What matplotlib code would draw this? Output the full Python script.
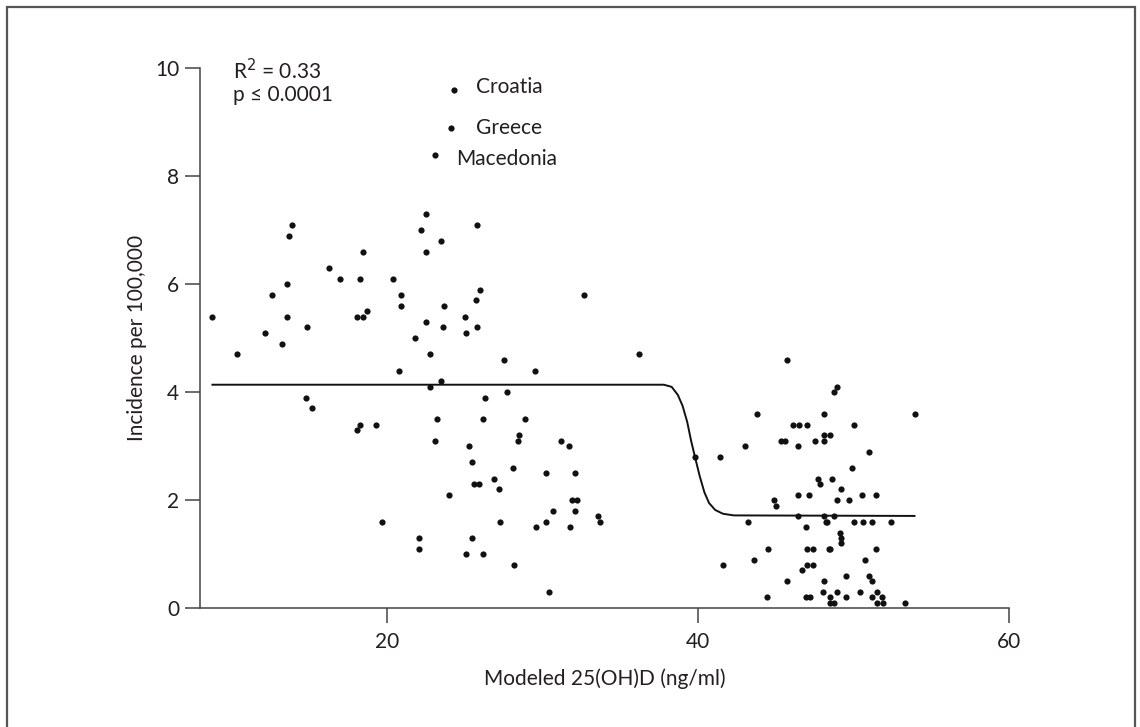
import numpy as np
import matplotlib
matplotlib.use("Agg")
import matplotlib.pyplot as plt
from matplotlib.patches import Rectangle

plt.rcParams['font.family'] = ['Lato', 'DejaVu Sans']

## scatter data: modeled 25(OH)D vs incidence
vitd_left = [8.8, 10.4, 12.2, 12.6, 13.3, 13.6, 13.6, 13.7, 13.9, 14.9, 14.8, 15.2, 16.3, 17.0,
             18.1, 18.3, 18.3, 18.5, 18.1, 18.5, 18.7, 19.3, 19.7, 20.4, 20.9, 20.9, 20.8, 21.8,
             22.1, 22.1, 22.2, 22.5, 22.5, 22.5, 22.8, 22.8, 23.1, 23.2, 23.5, 23.5, 23.6, 23.7,
             24.0, 23.1, 24.1, 24.3]
inc_left = [5.4, 4.7, 5.1, 5.8, 4.9, 6.0, 5.4, 6.9, 7.1, 5.2, 3.9, 3.7, 6.3, 6.1,
            3.3, 3.4, 6.1, 6.6, 5.4, 5.4, 5.5, 3.4, 1.6, 6.1, 5.8, 5.6, 4.4, 5.0,
            1.3, 1.1, 7.0, 7.3, 6.6, 5.3, 4.7, 4.1, 3.1, 3.5, 6.8, 4.2, 5.2, 5.6,
            2.1, 8.4, 8.9, 9.6]

vitd_mid = [25.0, 25.1, 25.8, 25.8, 26.0, 25.7, 32.7, 27.5, 29.5, 36.2, 27.7, 26.3, 26.2, 28.9,
            25.3, 28.5, 28.4, 31.2, 31.7, 25.5, 28.1, 30.2, 32.1, 25.6, 25.9, 26.9, 27.2, 31.9,
            32.2, 30.7, 32.1, 33.6, 33.7, 27.3, 30.2, 29.6, 31.8, 25.5, 25.1, 26.2, 28.2, 30.4]
inc_mid = [5.4, 5.1, 5.2, 7.1, 5.9, 5.7, 5.8, 4.6, 4.4, 4.7, 4.0, 3.9, 3.5, 3.5,
           3.0, 3.2, 3.1, 3.1, 3.0, 2.7, 2.6, 2.5, 2.5, 2.3, 2.3, 2.4, 2.2, 2.0,
           2.0, 1.8, 1.8, 1.7, 1.6, 1.6, 1.6, 1.5, 1.5, 1.3, 1.0, 1.0, 0.8, 0.3]

vitd_right = [45.7, 48.9, 48.7, 43.8, 48.1, 46.1, 46.5, 47.0, 50.0, 48.1, 48.5, 45.3, 45.6, 47.5,
              48.1, 46.4, 43.0, 39.8, 41.4, 51.0, 49.9, 47.7, 47.8, 48.6, 49.2, 46.4, 47.1, 50.5,
              48.9, 49.7, 44.9, 45.0, 43.2, 46.4, 48.1, 48.7, 48.2, 48.3, 50.0, 50.6, 46.9, 49.1,
              49.2, 49.2, 44.5, 47.0, 47.4, 48.4, 48.5, 41.6, 43.6, 47.0, 47.4, 50.7, 46.7, 49.5,
              51.0, 45.7, 48.1, 48.0, 48.9, 50.4, 44.4, 46.9, 47.2, 48.5, 49.5, 48.5, 48.7,
              53.9, 51.4, 51.2, 52.4, 51.4, 51.2, 51.5, 51.2, 51.8, 51.5, 51.9, 53.3]
inc_right = [4.6, 4.1, 4.0, 3.6, 3.6, 3.4, 3.4, 3.4, 3.4, 3.2, 3.2, 3.1, 3.1, 3.1,
             3.1, 3.0, 3.0, 2.8, 2.8, 2.9, 2.6, 2.4, 2.3, 2.4, 2.2, 2.1, 2.1, 2.1,
             2.0, 2.0, 2.0, 1.9, 1.6, 1.7, 1.7, 1.7, 1.6, 1.6, 1.6, 1.6, 1.5, 1.4,
             1.3, 1.2, 1.1, 1.1, 1.1, 1.1, 1.1, 0.8, 0.9, 0.8, 0.8, 0.9, 0.7, 0.6,
             0.6, 0.5, 0.5, 0.3, 0.3, 0.3, 0.2, 0.2, 0.2, 0.2, 0.2, 0.1, 0.1,
             3.6, 2.1, 1.6, 1.6, 1.1, 0.5, 0.3, 0.2, 0.2, 0.1, 0.1, 0.1]

## fitted step curve
fit_x = [8.8, 37.8, 38.3, 38.7, 39.0, 39.3, 39.55, 39.8, 40.1, 40.4, 40.7, 41.1, 41.6, 42.3, 53.9]
fit_y = [4.14, 4.14, 4.10, 3.95, 3.75, 3.45, 3.10, 2.80, 2.45, 2.15, 1.95, 1.82, 1.75, 1.72, 1.71]

## labelled countries
countries = ["Croatia", "Greece", "Macedonia"]
country_text_x = [25.73, 25.73, 24.44]
country_text_y = [9.66, 8.89, 8.32]

x_ticks = [20, 40, 60]
y_ticks = [0, 2, 4, 6, 8, 10]

vitd = vitd_left + vitd_mid + vitd_right
inc = inc_left + inc_mid + inc_right

fig = plt.figure(figsize=(11.4, 7.27), dpi=100)
ax = fig.add_axes([0.1754, 0.1633, 0.7101, 0.7428])

ax.scatter(vitd, inc, s=20, color="#111111", linewidths=0, zorder=3, clip_on=False)
ax.plot(fit_x, fit_y, color="#111111", lw=1.4, zorder=2)

for name, tx, ty in zip(countries, country_text_x, country_text_y):
    ax.text(tx, ty, name, fontsize=15, color="#231f20", va="center", ha="left")

ax.text(10.1, 9.96, r"R$^2$ = 0.33", fontsize=15, color="#231f20", va="center", ha="left")
ax.text(10.1, 9.5, "p \u2264 0.0001", fontsize=15, color="#231f20", va="center", ha="left")

## ax settings
ax.set_xlim(8, 60)
ax.set_ylim(0, 10)
ax.set_xticks(x_ticks)
ax.set_yticks(y_ticks)
for s in ["top", "right"]:
    ax.spines[s].set_visible(False)
for s in ["left", "bottom"]:
    ax.spines[s].set_color("#444444")
    ax.spines[s].set_linewidth(1.1)
ax.tick_params(direction="out", length=11, width=1.1, color="#444444",
               labelsize=15, labelcolor="#231f20")
ax.tick_params(axis="x", pad=6)
ax.tick_params(axis="y", pad=4)
ax.set_xlabel("Modeled 25(OH)D (ng/ml)", fontsize=15, color="#231f20")
ax.set_ylabel("Incidence per 100,000", fontsize=15, color="#231f20")
ax.xaxis.set_label_coords(0.5, -0.112)
ax.yaxis.set_label_coords(-0.066, 0.5)

## outer frame, open at the bottom edge
frame = Rectangle((6.5 / 1140, -0.05), (1135 - 6.5) / 1140, 1 - 6.5 / 727 + 0.05,
                  transform=fig.transFigure, fill=False, edgecolor="#555555", lw=1.6)
fig.add_artist(frame)

fig.savefig("out.png", dpi=100)
